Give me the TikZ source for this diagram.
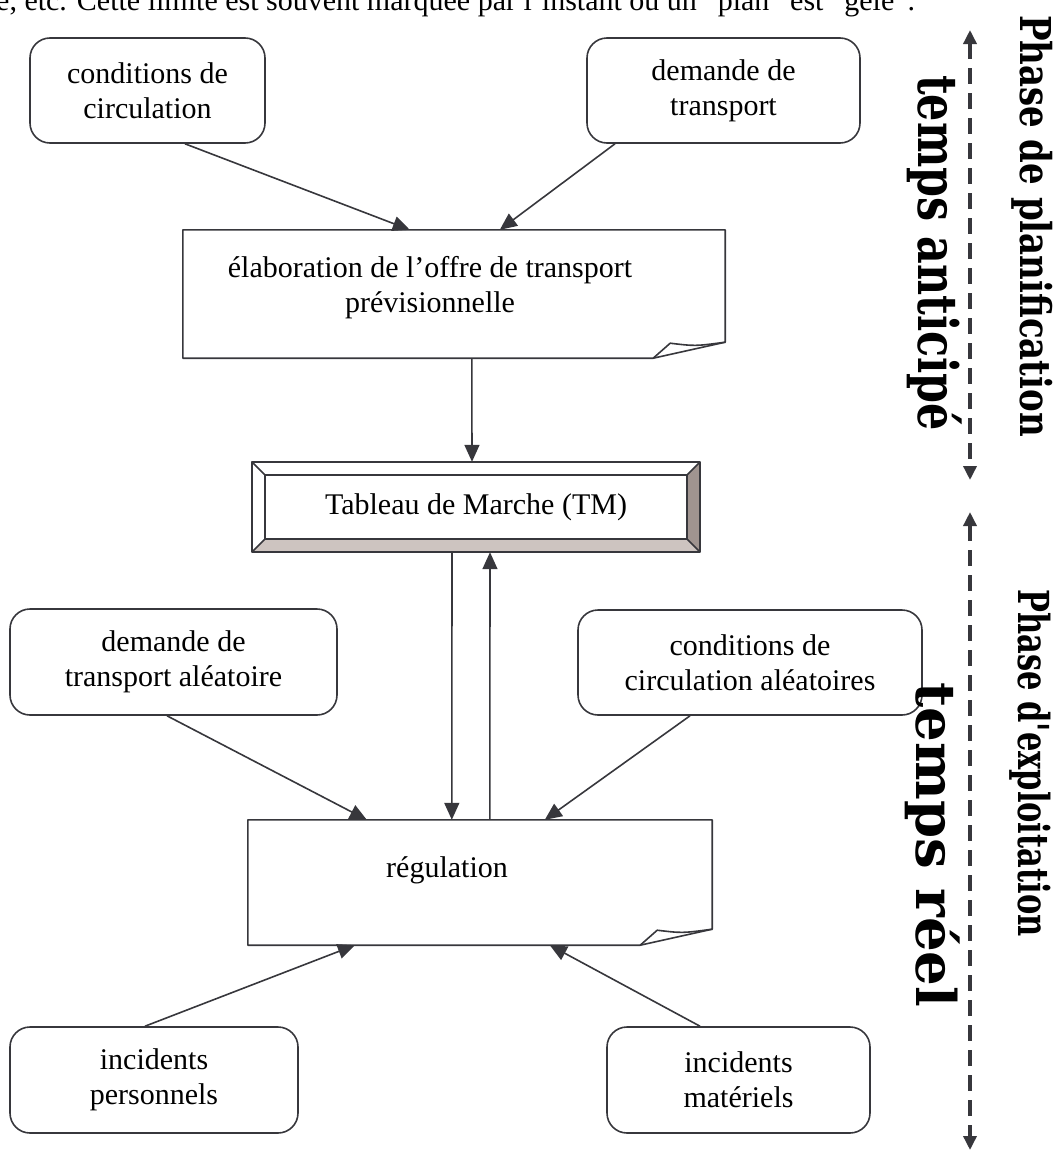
\documentclass[tikz,border=0pt]{standalone}
\usepackage{fontspec}
\setmainfont{Liberation Serif}
\newfontfamily\slabfont{DejaVu Serif}
\usepackage{tikz}
\usetikzlibrary{arrows.meta,calc}

\definecolor{linegray}{RGB}{55,55,60}
\definecolor{bevelbottom}{RGB}{205,196,192}
\definecolor{bevelright}{RGB}{160,148,144}

\begin{document}
\begin{tikzpicture}[x=1pt, y=-1pt,
    every node/.style={font=\fontsize{30}{35}\selectfont, align=center, inner sep=0pt},
    roundbox/.style={draw=linegray, line width=1.6pt, rounded corners=20pt},
    docline/.style={draw=linegray, line width=1.6pt, line join=round},
    arr/.style={draw=linegray, line width=1.6pt, -{Triangle[length=17pt,width=15pt]}},
    timeline/.style={draw=linegray, line width=3.4pt, dash pattern=on 16pt off 9pt,
        {Triangle[length=14pt,width=13pt]}-{Triangle[length=14pt,width=13pt]}},
    phase/.style={font=\slabfont\bfseries\fontsize{34}{40}\selectfont, rotate=-90},
    timing/.style={font=\slabfont\bfseries\fontsize{42}{48}\selectfont, rotate=-90}]
    \useasboundingbox (0,0) rectangle (1058,1154);

    \node[anchor=base west] (topline) at (-4,10)
        {e, etc. Cette limite est souvent marquée par l’instant où un "plan" est "gelé".};

    \node[roundbox, minimum width=235pt, minimum height=105pt] (cond) at (147.5,90.5) {conditions de\\circulation};
    \node[roundbox, minimum width=273pt, minimum height=105pt] (dem) at (723.5,90.5) {demande de\\transport};

    \node[minimum width=542pt, minimum height=128pt] (elab) at (454,294) {};
    \draw[docline] (elab.north west) -- (elab.north east) -- ($(elab.south east)+(0,-16)$)
        -- ($(elab.south east)+(-72,0)$) -- (elab.south west) -- cycle;
    \draw[docline] ($(elab.south east)+(-72,0)$) -- ($(elab.south east)+(-55,-15)$)
        .. controls ($(elab.south east)+(-30,-12)$) .. ($(elab.south east)+(0,-16)$);
    \node (elabtext) at (430,288) {élaboration de l’offre de transport\\prévisionnelle};

    \node[minimum width=422pt, minimum height=64pt] (tm) at (476,507) {Tableau de Marche (TM)};
    \fill[bevelbottom] (tm.south west) -- (tm.south east) -- ($(tm.south east)+(13,13)$)
        -- ($(tm.south west)+(-13,13)$) -- cycle;
    \fill[bevelright] (tm.south east) -- (tm.north east) -- ($(tm.north east)+(13,-13)$)
        -- ($(tm.south east)+(13,13)$) -- cycle;
    \draw[docline] ($(tm.north west)+(-13,-13)$) rectangle ($(tm.south east)+(13,13)$);
    \draw[docline] (tm.north west) rectangle (tm.south east);
    \draw[docline] (tm.north west) -- +(-13,-13) (tm.north east) -- +(13,-13)
        (tm.south west) -- +(-13,13) (tm.south east) -- +(13,13);

    \node[roundbox, minimum width=327pt, minimum height=106pt] (da) at (173.5,662) {demande de\\transport aléatoire};
    \node[roundbox, minimum width=344pt, minimum height=105pt] (ca) at (750,662.5) {conditions de\\circulation aléatoires};

    \node[minimum width=464pt, minimum height=125pt] (reg) at (480,882.5) {};
    \draw[docline] (reg.north west) -- (reg.north east) -- ($(reg.south east)+(0,-16)$)
        -- ($(reg.south east)+(-72,0)$) -- (reg.south west) -- cycle;
    \draw[docline] ($(reg.south east)+(-72,0)$) -- ($(reg.south east)+(-55,-15)$)
        .. controls ($(reg.south east)+(-30,-12)$) .. ($(reg.south east)+(0,-16)$);
    \node (regtext) at (447,870) {régulation};

    \node[roundbox, minimum width=288pt, minimum height=106pt] (ip) at (154,1080) {incidents\\personnels};
    \node[roundbox, minimum width=263pt, minimum height=106pt] (im) at (738.5,1080) {incidents\\matériels};

    \draw[arr] ($(cond.south)+(37.5,0)$) -- ($(elab.north west)+(227,0)$);
    \draw[arr] ($(dem.south)+(-108.5,0)$) -- ($(elab.north west)+(317,0)$);
    \draw[arr] ($(elab.south west)+(289,0)$) -- ($(tm.north)+(-4,-13)$);
    \draw[arr] ($(tm.south)+(-24,13)$) -- ($(reg.north west)+(204,0)$);
    \draw[arr] ($(reg.north west)+(242,0)$) -- ($(tm.south)+(14,13)$);
    \draw[arr] ($(da.south)+(-6.5,0)$) -- ($(reg.north west)+(119,0)$);
    \draw[arr] ($(ca.south)+(-60,0)$) -- ($(reg.north west)+(297,0)$);
    \draw[arr] ($(ip.north)+(-9,0)$) -- ($(reg.south west)+(107,0)$);
    \draw[arr] ($(im.north)+(-38.5,0)$) -- ($(reg.south west)+(302,0)$);

    \coordinate (plantop) at (970,30);
    \coordinate (planbot) at (970,480);
    \coordinate (exptop) at (970,512);
    \coordinate (expbot) at (970,1150);
    \draw[timeline] (plantop) -- (planbot);
    \draw[timeline] (exptop) -- (expbot);

    \node[phase] (planif) at (1032,226) {\scalebox{1}[1.25]{Phase de planification}};
    \node[timing] (anticipe) at (935,253) {\scalebox{1.02}[1.3]{temps anticipé}};
    \node[phase, font=\slabfont\bfseries\fontsize{30.5}{36}\selectfont] (exploit) at (1030,763)
        {\scalebox{1}[1.4]{Phase d\textquotesingle exploitation}};
    \node[timing] (reel) at (933,845) {\scalebox{1.3}[1.3]{temps réel}};
\end{tikzpicture}
\end{document}
